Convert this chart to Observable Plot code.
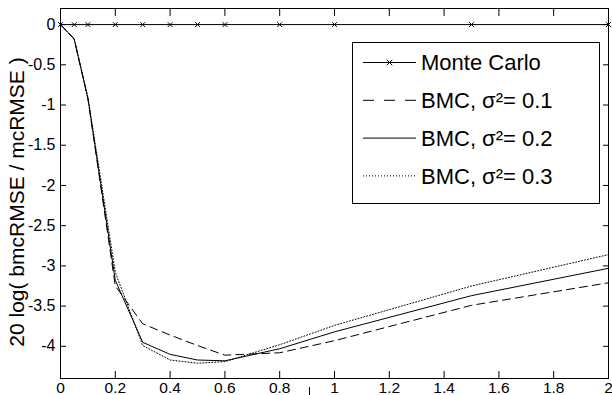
<!DOCTYPE html>
<html><head><meta charset="utf-8">
<script src="https://cdn.jsdelivr.net/npm/d3@7"></script>
<script src="https://cdn.jsdelivr.net/npm/@observablehq/plot@0.6"></script>
<style>
body{margin:0;background:#fff;font-family:"Liberation Sans",Arial,sans-serif;}
#wrap{position:relative;width:612px;height:395px;overflow:hidden;}
#legend{position:absolute;left:352px;top:42px;}
#stray{position:absolute;left:309px;top:387px;width:1px;height:8px;background:#000;}
</style></head><body><div id="wrap"><div id="stray"></div></div>
<script>
// ---- data ----
const xValues = [0, 0.05, 0.1, 0.2, 0.3, 0.4, 0.5, 0.6, 0.8, 1, 1.5, 2];
const monteCarlo = [0, 0, 0, 0, 0, 0, 0, 0, 0, 0, 0, 0];
const bmc01 = [0, -0.18, -0.92, -3.25, -3.72, -3.86, -3.99, -4.11, -4.08, -3.93, -3.49, -3.21];
const bmc02 = [0, -0.18, -0.92, -3.18, -3.95, -4.10, -4.17, -4.18, -4.03, -3.82, -3.37, -3.03];
const bmc03 = [0, -0.18, -0.90, -3.08, -3.99, -4.17, -4.21, -4.19, -3.98, -3.74, -3.25, -2.86];
const seriesNames = ["Monte Carlo", "BMC, σ²= 0.1", "BMC, σ²= 0.2", "BMC, σ²= 0.3"];
const xTicks = [0, 0.2, 0.4, 0.6, 0.8, 1, 1.2, 1.4, 1.6, 1.8, 2];
const yTicks = [0, -0.5, -1, -1.5, -2, -2.5, -3, -3.5, -4];
const yLabel = "20 log( bmcRMSE / mcRMSE )";

const seriesValues = [monteCarlo, bmc01, bmc02, bmc03];
const dashes = [null, "8,5", null, "1,2"];
const rows = seriesValues.map((vals, s) => xValues.map((x, i) => ({x, y: vals[i], s})));
const fmt = d => String(d);

const chart = Plot.plot({
  width: 612, height: 395,
  marginLeft: 60, marginRight: 4, marginTop: 8, marginBottom: 17,
  style: {fontFamily: '"Liberation Sans", Arial, sans-serif', fontSize: "16px", background: "white", color: "black"},
  x: {domain: [0, 2]},
  y: {domain: [-4.4, 0.2]},
  marks: [
    Plot.frame({stroke: "black", strokeWidth: 1}),
    Plot.axisX({anchor: "bottom", ticks: xTicks, tickSize: -7, tickPadding: 10, tickFormat: fmt, label: null, fontSize: 15.5}),
    Plot.axisX({anchor: "top", ticks: xTicks, tickSize: -7, tickFormat: () => "", label: null}),
    Plot.axisY({anchor: "left", ticks: yTicks, tickSize: -6, tickPadding: 11, tickFormat: fmt, label: null, fontSize: 16}),
    Plot.axisY({anchor: "right", ticks: yTicks, tickSize: -6, tickFormat: () => "", label: null}),
    ...rows.map((r, s) => Plot.line(r, {x: "x", y: "y", stroke: "black", strokeWidth: 1, strokeDasharray: dashes[s]})),
    Plot.dot(rows[0], {x: "x", y: "y", symbol: "times", r: 2.3, stroke: "black", strokeWidth: 1}),
    Plot.text([yLabel], {frameAnchor: "left", text: d => d, rotate: -90, dx: -43, dy: 8.5, fontSize: 21, textAnchor: "middle", lineAnchor: "middle", fill: "black"})
  ]
});
const wrap = document.getElementById("wrap");
wrap.insertBefore(chart, wrap.firstChild);

// ---- legend (inside the axes, top-right) ----
const lw = 247, lh = 161;
const leg = d3.select("#wrap").append("svg").attr("id", "legend")
  .attr("width", lw + 1).attr("height", lh + 1);
leg.append("rect").attr("x", 0.5).attr("y", 0.5).attr("width", lw).attr("height", lh)
  .attr("fill", "white").attr("stroke", "black").attr("stroke-width", 1);
const legDash = [null, "11,10", null, "1,2"];
seriesNames.forEach((name, i) => {
  const cy = 20.5 + i * 37.8;
  leg.append("line").attr("x1", 11).attr("x2", 64).attr("y1", cy).attr("y2", cy)
    .attr("stroke", "black").attr("stroke-width", 1)
    .attr("stroke-dasharray", legDash[i]);
  if (i === 0) {
    leg.append("path").attr("d", d3.symbol(d3.symbolTimes, 22)())
      .attr("transform", `translate(37.5,${cy})`).attr("fill", "none").attr("stroke", "black").attr("stroke-width", 1);
  }
  leg.append("text").attr("x", 69).attr("y", cy + 7.8).text(name)
    .attr("font-family", '"Liberation Sans", Arial, sans-serif').attr("font-size", 22).attr("fill", "black");
});
</script>
</body></html>
